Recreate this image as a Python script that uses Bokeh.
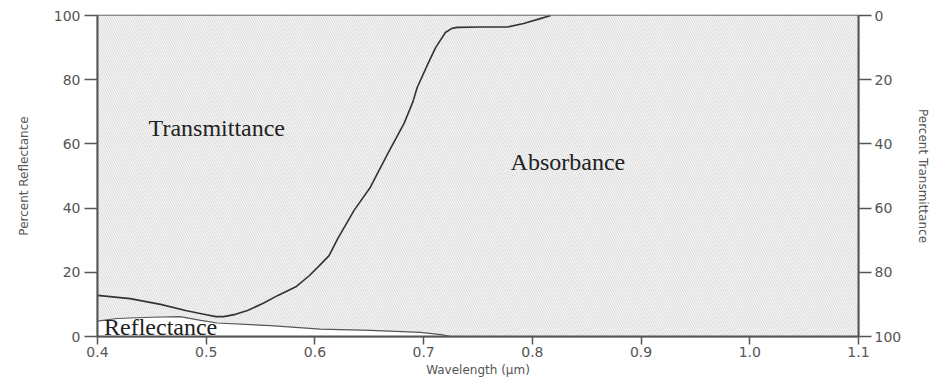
from bokeh.plotting import figure
from bokeh.models import Range1d, LinearAxis, BoxAnnotation, Label, FixedTicker
from bokeh.embed import file_html
from bokeh.resources import INLINE

# Axis limits and ticks
wl_min, wl_max = 0.4, 1.1
x_ticks = [0.4, 0.5, 0.6, 0.7, 0.8, 0.9, 1.0, 1.1]
x_tick_labels = ["0.4", "0.5", "0.6", "0.7", "0.8", "0.9", "1.0", "1.1"]
pct_ticks = [0, 20, 40, 60, 80, 100]

# Transmittance boundary (percent transmittance, right-hand reversed axis)
trans_wl = [0.400, 0.430, 0.458, 0.481, 0.500, 0.509, 0.516, 0.527, 0.538,
            0.552, 0.566, 0.583, 0.595, 0.605, 0.613, 0.621, 0.636, 0.651,
            0.667, 0.682, 0.690, 0.694, 0.704, 0.711, 0.720, 0.726, 0.731,
            0.752, 0.777, 0.792, 0.808, 0.817]
trans_pct = [87.2, 88.2, 90.0, 91.9, 93.2, 93.8, 93.8, 93.1, 91.9,
             89.7, 87.2, 84.4, 81.0, 77.6, 74.8, 69.5, 60.7, 53.5,
             43.0, 33.6, 27.0, 22.5, 15.0, 10.0, 5.3, 4.0, 3.7,
             3.6, 3.6, 2.5, 0.9, 0.0]

# Reflectance curve (percent reflectance, left axis)
refl_wl = [0.400, 0.418, 0.449, 0.476, 0.495, 0.510, 0.559, 0.605, 0.651,
           0.697, 0.716, 0.725]
refl_pct = [4.8, 5.6, 6.0, 6.2, 5.0, 4.2, 3.4, 2.3, 1.9, 1.3, 0.6, 0.0]

AXIS_COLOR = "#555555"
TICK_FONT = "DejaVu Sans"

p = figure(width=943, height=379,
           x_range=Range1d(wl_min, wl_max), y_range=Range1d(0, 100),
           output_backend="svg", toolbar_location=None,
           min_border_left=97, min_border_right=85,
           min_border_top=15, min_border_bottom=43,
           background_fill_color="white", border_fill_color="white")
p.extra_y_ranges = {"trans": Range1d(100, 0)}
p.grid.visible = False
p.outline_line_color = AXIS_COLOR
p.outline_line_width = 1.5

# Hatched background covering the whole plotting frame
hatch = BoxAnnotation(fill_color="white", fill_alpha=1.0,
                      hatch_pattern="\\", hatch_color="#d4d4d4",
                      hatch_scale=4.5, hatch_weight=1.0,
                      line_alpha=0, level="underlay")
p.add_layout(hatch)

# Reflectance band (unhatched) below the reflectance curve
p.varea(x=refl_wl, y1=[0] * len(refl_wl), y2=refl_pct, fill_color="white")
p.line(refl_wl, refl_pct, line_color="#555555", line_width=1.2)

# Transmittance / absorbance boundary on the reversed right axis
p.line(trans_wl, trans_pct, y_range_name="trans",
       line_color="#333333", line_width=1.6, line_join="round")


def style_axis(ax, label):
    ax.axis_label = label
    ax.axis_label_text_font = TICK_FONT
    ax.axis_label_text_font_size = "12px"
    ax.axis_label_text_font_style = "normal"
    ax.axis_label_text_color = "#555555"
    ax.axis_line_color = AXIS_COLOR
    ax.axis_line_width = 2
    ax.major_tick_line_color = AXIS_COLOR
    ax.major_tick_line_width = 1.5
    ax.major_tick_in = 0
    ax.minor_tick_line_color = None
    ax.major_label_text_font = TICK_FONT
    ax.major_label_text_font_size = "14px"
    ax.major_label_text_color = "#555555"


# Bottom axis: wavelength
xa = p.xaxis[0]
style_axis(xa, "Wavelength (\u00b5m)")
xa.ticker = FixedTicker(ticks=x_ticks)
xa.major_label_overrides = dict(zip(x_ticks, x_tick_labels))
xa.major_tick_out = 8
xa.major_label_standoff = 2
xa.axis_label_standoff = 3

# Left axis: reflectance
ya = p.yaxis[0]
style_axis(ya, "Percent Reflectance")
ya.ticker = FixedTicker(ticks=pct_ticks)
ya.major_tick_out = 13
ya.major_label_standoff = 4
ya.axis_label_standoff = 20

# Right axis: transmittance, reversed
ra = LinearAxis(y_range_name="trans", ticker=FixedTicker(ticks=pct_ticks))
style_axis(ra, "Percent Transmittance")
ra.major_tick_out = 13
ra.major_label_standoff = 3
ra.axis_label_standoff = 12
p.add_layout(ra, "right")

# Region names
for txt, x, y in [("Transmittance", 0.447, 65), ("Absorbance", 0.780, 54.5),
                  ("Reflectance", 0.406, 3.0)]:
    p.add_layout(Label(x=x, y=y, text=txt, text_font="Liberation Serif",
                       text_font_size="24px", text_color="#222222",
                       text_baseline="middle", text_align="left"))

open("out.html", "w").write(file_html(p, INLINE))
